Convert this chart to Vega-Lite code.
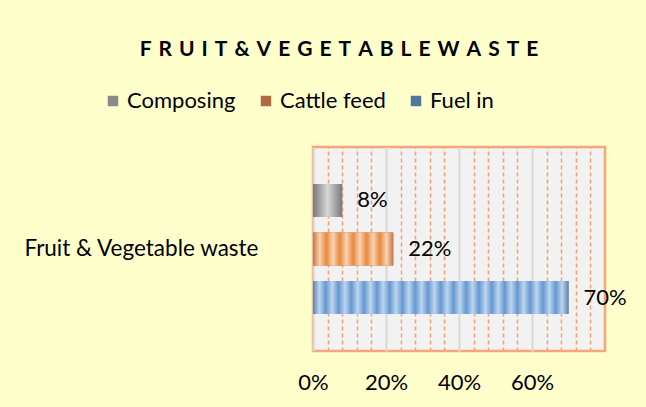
{
  "$schema": "https://vega.github.io/schema/vega-lite/v6.json",
  "width": 292,
  "height": 204,
  "autosize": "none",
  "padding": {"left": 313, "top": 147, "right": 41, "bottom": 56},
  "background": "#FFFFCC",
  "title": {
    "text": "F\u2004R\u2004U\u2004I\u2004T\u2004&\u2004V\u2004E\u2004G\u2004E\u2004T\u2004A\u2004B\u2004L\u2004E\u2004W\u2004A\u2004S\u2004T\u2004E",
    "font": "Lato",
    "fontSize": 21,
    "fontWeight": "bold",
    "color": "black",
    "anchor": "middle",
    "frame": "group",
    "dx": -120,
    "offset": 30
  },
  "data": {
    "values": [
      {"category": "Fruit & Vegetable waste", "series": "Composing", "value": 0.08},
      {"category": "Fruit & Vegetable waste", "series": "Cattle feed", "value": 0.22},
      {"category": "Fruit & Vegetable waste", "series": "Fuel in", "value": 0.70}
    ]
  },
  "encoding": {
    "y": {
      "field": "category",
      "type": "nominal",
      "scale": {"paddingInner": 0, "paddingOuter": 0.2},
      "axis": {
        "title": null,
        "ticks": false,
        "domain": false,
        "labelFont": "Lato",
        "labelFontSize": 22.5,
        "labelColor": "black",
        "labelPadding": 55,
        "labelLimit": 400
      }
    },
    "yOffset": {
      "field": "series",
      "type": "nominal",
      "sort": ["Composing", "Cattle feed", "Fuel in"],
      "scale": {"paddingInner": 0.32, "paddingOuter": 0.16}
    },
    "x": {
      "field": "value",
      "type": "quantitative",
      "scale": {"domain": [0, 0.8], "nice": false},
      "axis": {
        "title": null,
        "values": [0, 0.04, 0.08, 0.12, 0.16, 0.2, 0.24, 0.28, 0.32, 0.36, 0.4, 0.44, 0.48, 0.52, 0.56, 0.6, 0.64, 0.68, 0.72, 0.76],
        "format": ".0%",
        "labelExpr": "abs(datum.value*5-round(datum.value*5))<0.001 ? datum.label : ''",
        "labelOverlap": false,
        "labelFlush": false,
        "ticks": false,
        "domain": false,
        "grid": true,
        "gridColor": {"condition": {"test": "abs(datum.value*5-round(datum.value*5))<0.001", "value": "#D9D9D9"}, "value": "#F8A070"},
        "gridDash": {"condition": {"test": "abs(datum.value*5-round(datum.value*5))<0.001", "value": []}, "value": [4, 3]},
        "gridWidth": {"condition": {"test": "abs(datum.value*5-round(datum.value*5))<0.001", "value": 2}, "value": 1.5},
        "labelFont": "Lato",
        "labelFontSize": 22,
        "labelColor": "black",
        "labelPadding": 21
      }
    }
  },
  "layer": [
    {
      "mark": {"type": "bar"},
      "encoding": {
        "fill": {
          "field": "series",
          "type": "nominal",
          "scale": {"domain": ["Composing", "Cattle feed", "Fuel in"], "range": ["#8A8A8A", "#AE6B40", "#52779F"]},
          "legend": {
            "orient": "none",
            "legendX": -211,
            "legendY": -57,
            "direction": "horizontal",
            "title": null,
            "symbolType": "square",
            "symbolSize": 110,
            "symbolStrokeWidth": 0,
            "labelFont": "Lato",
            "labelFontSize": 22,
            "labelColor": "black",
            "labelOffset": 3,
            "columnPadding": 19,
            "labelLimit": 300
          }
        }
      }
    },
    {
      "mark": {"type": "bar"},
      "encoding": {
        "fill": {
          "condition": [
            {
              "test": "datum.series === 'Composing'",
              "value": {
                "gradient": "linear", "x1": 0, "y1": 0, "x2": 1, "y2": 0,
                "stops": [
                  {"offset": 0, "color": "#7A7A7A"},
                  {"offset": 0.5, "color": "#D6D6D6"},
                  {"offset": 1, "color": "#7A7A7A"}
                ]
              }
            },
            {
              "test": "datum.series === 'Cattle feed'",
              "value": {
                "gradient": "linear", "x1": 0, "y1": 0, "x2": 1, "y2": 0,
                "stops": [
                  {"offset": 0, "color": "#C8773E"},
                  {"offset": 0.0833, "color": "#F9D3B3"},
                  {"offset": 0.1667, "color": "#E8893F"},
                  {"offset": 0.25, "color": "#F9D3B3"},
                  {"offset": 0.3333, "color": "#E8893F"},
                  {"offset": 0.4167, "color": "#F9D3B3"},
                  {"offset": 0.5, "color": "#E8893F"},
                  {"offset": 0.5833, "color": "#F9D3B3"},
                  {"offset": 0.6667, "color": "#E8893F"},
                  {"offset": 0.75, "color": "#F9D3B3"},
                  {"offset": 0.8333, "color": "#E8893F"},
                  {"offset": 0.9167, "color": "#F9D3B3"},
                  {"offset": 1, "color": "#C8773E"}
                ]
              }
            }
          ],
          "value": {
            "gradient": "linear", "x1": 0, "y1": 0, "x2": 1, "y2": 0,
            "stops": [
              {"offset": 0, "color": "#5A82B0"},
              {"offset": 0.025, "color": "#BCD6F0"},
              {"offset": 0.05, "color": "#6797D0"},
              {"offset": 0.075, "color": "#BCD6F0"},
              {"offset": 0.1, "color": "#6797D0"},
              {"offset": 0.125, "color": "#BCD6F0"},
              {"offset": 0.15, "color": "#6797D0"},
              {"offset": 0.175, "color": "#BCD6F0"},
              {"offset": 0.2, "color": "#6797D0"},
              {"offset": 0.225, "color": "#BCD6F0"},
              {"offset": 0.25, "color": "#6797D0"},
              {"offset": 0.275, "color": "#BCD6F0"},
              {"offset": 0.3, "color": "#6797D0"},
              {"offset": 0.325, "color": "#BCD6F0"},
              {"offset": 0.35, "color": "#6797D0"},
              {"offset": 0.375, "color": "#BCD6F0"},
              {"offset": 0.4, "color": "#6797D0"},
              {"offset": 0.425, "color": "#BCD6F0"},
              {"offset": 0.45, "color": "#6797D0"},
              {"offset": 0.475, "color": "#BCD6F0"},
              {"offset": 0.5, "color": "#6797D0"},
              {"offset": 0.525, "color": "#BCD6F0"},
              {"offset": 0.55, "color": "#6797D0"},
              {"offset": 0.575, "color": "#BCD6F0"},
              {"offset": 0.6, "color": "#6797D0"},
              {"offset": 0.625, "color": "#BCD6F0"},
              {"offset": 0.65, "color": "#6797D0"},
              {"offset": 0.675, "color": "#BCD6F0"},
              {"offset": 0.7, "color": "#6797D0"},
              {"offset": 0.725, "color": "#BCD6F0"},
              {"offset": 0.75, "color": "#6797D0"},
              {"offset": 0.775, "color": "#BCD6F0"},
              {"offset": 0.8, "color": "#6797D0"},
              {"offset": 0.825, "color": "#BCD6F0"},
              {"offset": 0.85, "color": "#6797D0"},
              {"offset": 0.875, "color": "#BCD6F0"},
              {"offset": 0.9, "color": "#6797D0"},
              {"offset": 0.925, "color": "#BCD6F0"},
              {"offset": 0.95, "color": "#6797D0"},
              {"offset": 0.975, "color": "#BCD6F0"},
              {"offset": 1, "color": "#5A82B0"}
            ]
          }
        }
      }
    },
    {
      "mark": {"type": "text", "align": "left", "dx": 15, "font": "Lato", "fontSize": 22, "color": "black"},
      "encoding": {
        "text": {"field": "value", "type": "quantitative", "format": ".0%"}
      }
    }
  ],
  "config": {
    "view": {"fill": "#F2F2F2", "stroke": "#F8A57A", "strokeWidth": 2.5}
  }
}
